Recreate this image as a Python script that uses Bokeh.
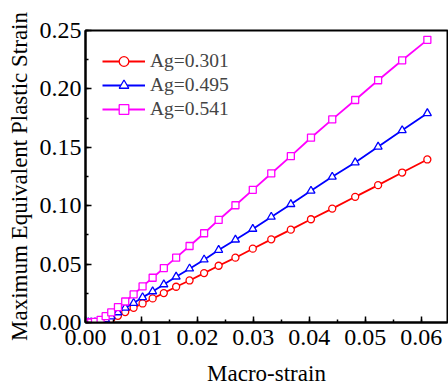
from bokeh.plotting import figure
from bokeh.models import Range1d, Legend, LegendItem, SingleIntervalTicker, PrintfTickFormatter
from bokeh.embed import file_html
from bokeh.resources import INLINE

macro_strain = [0, 0.0005, 0.001, 0.0017, 0.0027, 0.0036, 0.0046, 0.0058, 0.0071, 0.0086,
                0.0102, 0.0120, 0.0140, 0.0162, 0.0186, 0.0212, 0.0238, 0.0268, 0.0299, 0.0332,
                0.0367, 0.0403, 0.0441, 0.0482, 0.0523, 0.0566, 0.0611]
ag_0301 = [0, 0, 0, 0, 0, 0.0011, 0.0031, 0.0057, 0.0089, 0.0126,
           0.0163, 0.0206, 0.0252, 0.0306, 0.0360, 0.0423, 0.0486, 0.0555, 0.0632, 0.0712,
           0.0795, 0.0884, 0.0975, 0.1076, 0.1176, 0.1284, 0.1396]
ag_0495 = [0, 0, 0, 0, 0.0009, 0.0026, 0.0051, 0.0086, 0.0126, 0.0166,
           0.0215, 0.0266, 0.0326, 0.0392, 0.0461, 0.0538, 0.0621, 0.0709, 0.0801, 0.0904,
           0.1013, 0.1127, 0.1247, 0.1370, 0.1505, 0.1645, 0.1791]
ag_0541 = [0, 0, 0, 0.0005, 0.0023, 0.0054, 0.0086, 0.0132, 0.0180, 0.0240,
           0.0309, 0.0383, 0.0466, 0.0555, 0.0655, 0.0764, 0.0878, 0.1004, 0.1136, 0.1276,
           0.1424, 0.1582, 0.1739, 0.1905, 0.2074, 0.2245, 0.2420]
labels = ["Ag=0.301", "Ag=0.495", "Ag=0.541"]

FONT = "Liberation Serif"

p = figure(width=448, height=389, output_backend="svg", toolbar_location=None,
           x_range=Range1d(0, 0.0647), y_range=Range1d(0, 0.25),
           min_border_left=85, min_border_right=1, min_border_top=30, min_border_bottom=67)
p.background_fill_color = "white"
p.border_fill_color = "white"
p.outline_line_color = "black"
p.outline_line_width = 2
p.xgrid.visible = False
p.ygrid.visible = False

r1l = p.line(macro_strain, ag_0301, line_color="#FF0000", line_width=1.8)
r1m = p.scatter(macro_strain, ag_0301, marker="circle", size=7, line_color="#FF0000",
                fill_color="white", line_width=1.3)
r2l = p.line(macro_strain, ag_0495, line_color="#0000FF", line_width=1.8)
r2m = p.scatter(macro_strain, ag_0495, marker="triangle", size=8, line_color="#0000FF",
                fill_color="white", line_width=1.3)
r3l = p.line(macro_strain, ag_0541, line_color="#FF00FF", line_width=1.8)
r3m = p.scatter(macro_strain, ag_0541, marker="square", size=7, line_color="#FF00FF",
                fill_color="white", line_width=1.3)

for ax in (p.xaxis[0], p.yaxis[0]):
    ax.axis_line_width = 2
    ax.major_tick_line_width = 1.5
    ax.minor_tick_line_width = 1.5
    ax.major_tick_in = 6
    ax.major_tick_out = 0
    ax.minor_tick_in = 3
    ax.minor_tick_out = 0
    ax.major_label_text_font = FONT
    ax.major_label_text_font_size = "24px"
    ax.major_label_text_color = "black"
    ax.axis_label_text_font = FONT
    ax.axis_label_text_font_style = "normal"
    ax.axis_label_text_color = "black"
    ax.formatter = PrintfTickFormatter(format="%.2f")

p.xaxis[0].axis_label_text_font_size = "23px"
p.yaxis[0].axis_label_text_font_size = "23px"
p.xaxis[0].ticker = SingleIntervalTicker(interval=0.01, num_minor_ticks=2)
p.yaxis[0].ticker = SingleIntervalTicker(interval=0.05, num_minor_ticks=2)
p.xaxis[0].axis_label = "Macro-strain"
p.yaxis[0].axis_label = "Maximum Equivalent Plastic Strain"
p.xaxis[0].major_label_standoff = 7
p.yaxis[0].major_label_standoff = 4
p.xaxis[0].axis_label_standoff = 13
p.yaxis[0].axis_label_standoff = 5

legend = Legend(items=[LegendItem(label=labels[0], renderers=[r1l, r1m]),
                       LegendItem(label=labels[1], renderers=[r2l, r2m]),
                       LegendItem(label=labels[2], renderers=[r3l, r3m])],
                location=(15, 199), border_line_alpha=0, background_fill_alpha=0,
                label_text_font=FONT, label_text_font_size="19.5px",
                glyph_width=43, glyph_height=24, label_height=24, spacing=0,
                label_standoff=5, padding=2, margin=0)
p.add_layout(legend)

open("out.html", "w").write(file_html(p, INLINE))
